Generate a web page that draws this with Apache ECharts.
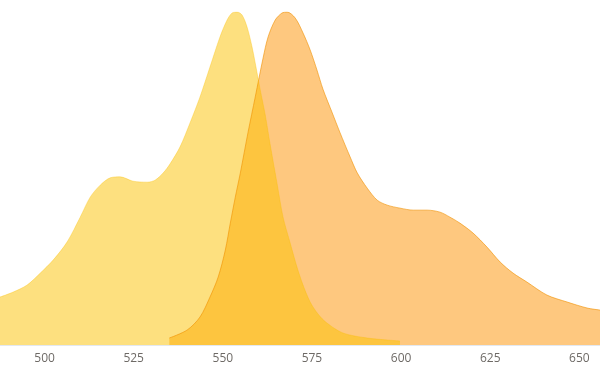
<!DOCTYPE html>
<html>
<head>
<meta charset="utf-8">
<script src="https://cdn.jsdelivr.net/npm/echarts@6/dist/echarts.min.js"></script>
<style>html,body{margin:0;padding:0;background:#fff}#c{width:600px;height:370px}</style>
</head>
<body>
<div id="c"></div>
<script>
// Excitation spectrum (wavelength nm, normalized intensity)
const excitationNm = [487.5,491.2,495.1,498.8,502.4,506.3,510.0,512.8,515.6,518.4,521.2,524.8,528.8,531.0,533.3,535.2,538.0,540.8,543.6,546.4,549.2,551.2,552.6,554.0,555.4,556.8,558.2,559.3,560.5,561.9,563.3,565.2,566.9,568.9,570.8,572.5,574.5,576.7,579.2,583.7,590.5,599.7];
const excitationVal = [0.144,0.159,0.180,0.216,0.255,0.309,0.384,0.444,0.480,0.502,0.505,0.492,0.489,0.495,0.517,0.544,0.595,0.667,0.745,0.835,0.925,0.976,0.997,1.0,0.991,0.955,0.895,0.835,0.766,0.691,0.601,0.486,0.384,0.306,0.234,0.180,0.129,0.093,0.066,0.036,0.021,0.012];
// Emission spectrum
const emissionNm = [535.0,540.0,543.6,546.4,548.7,550.7,552.1,553.5,554.9,557.1,559.1,561.3,562.7,564.7,566.6,568.0,570.3,572.5,574.5,576.4,578.1,580.7,582.9,585.7,587.7,590.5,593.3,596.1,599.7,603.4,607.3,610.9,613.7,616.5,620.2,624.1,627.8,631.4,635.3,640.9,646.6,652.2,655.8];
const emissionVal = [0.021,0.045,0.084,0.144,0.204,0.285,0.366,0.444,0.516,0.640,0.745,0.862,0.925,0.976,0.997,1.0,0.982,0.937,0.886,0.826,0.768,0.697,0.637,0.565,0.517,0.471,0.435,0.420,0.411,0.405,0.405,0.399,0.384,0.366,0.336,0.294,0.249,0.216,0.189,0.150,0.129,0.111,0.105];
const xTicks = [500,525,550,575,600,625,650];

const pairs = (xs, ys) => xs.map((x, i) => [x, ys[i]]);

const chart = echarts.init(document.getElementById('c'), null, {renderer: 'canvas'});
chart.setOption({
  animation: false,
  backgroundColor: '#ffffff',
  grid: {left: 0, right: 0, top: 12, bottom: 25, containLabel: false, outerBoundsMode: 'none'},
  xAxis: {
    type: 'value',
    min: 487.5,
    max: 655.8,
    interval: 12.5,
    splitLine: {show: false},
    axisTick: {show: false},
    axisLine: {show: true, lineStyle: {color: '#e3e8f0', width: 1}},
    axisLabel: {
      color: '#6e6a66',
      fontFamily: 'Open Sans',
      fontSize: 12,
      margin: 8,
      hideOverlap: false,
      formatter: v => {
        const r = Math.round(v);
        return (Math.abs(v - r) < 1e-6 && xTicks.indexOf(r) >= 0) ? String(r) : '';
      }
    }
  },
  yAxis: {
    type: 'value', min: 0, max: 1,
    show: false, splitLine: {show: false}
  },
  series: [
    {
      name: 'Emission',
      type: 'line',
      data: pairs(emissionNm, emissionVal),
      smooth: 0.3,
      showSymbol: false,
      symbol: 'none',
      lineStyle: {width: 1, color: 'rgba(240,145,0,0.6)'},
      areaStyle: {color: 'rgb(253,145,0)', opacity: 0.5}
    },
    {
      name: 'Excitation',
      type: 'line',
      data: pairs(excitationNm, excitationVal),
      smooth: 0.3,
      showSymbol: false,
      symbol: 'none',
      lineStyle: {width: 1, color: 'rgba(251,193,0,0.35)'},
      areaStyle: {color: 'rgb(251,193,0)', opacity: 0.5}
    }
  ]
});
</script>
</body>
</html>
